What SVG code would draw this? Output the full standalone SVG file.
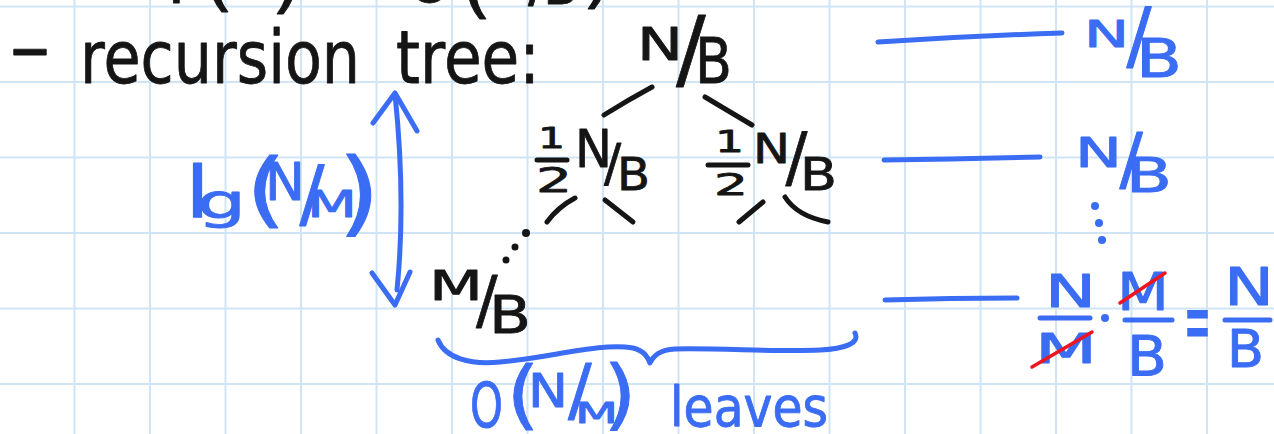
<svg xmlns="http://www.w3.org/2000/svg" width="1274" height="434" viewBox="0 0 1274 434">
<style>
.grid line{stroke:#cfe5f5;stroke-width:2}
.t{font-family:"DejaVu Sans","Liberation Sans",sans-serif;stroke-linejoin:round}
.k{fill:#151515;stroke:#151515;stroke-width:0.8}
.b{fill:#3a6cf4;stroke:#3a6cf4;stroke-width:0.9}
.kl{fill:none;stroke:#151515;stroke-width:5;stroke-linecap:round;stroke-linejoin:round}
.bl{fill:none;stroke:#3a6cf4;stroke-width:5;stroke-linecap:round;stroke-linejoin:round}
.rl{fill:none;stroke:#ec1520;stroke-width:3.5;stroke-linecap:round}
.kd{fill:#151515}
.bd{fill:#3a6cf4}
</style>
<rect width="1274" height="434" fill="#ffffff"/>
<g class="grid">
<line x1="74.5" y1="0" x2="74.5" y2="434"/><line x1="150" y1="0" x2="150" y2="434"/><line x1="225.5" y1="0" x2="225.5" y2="434"/><line x1="301" y1="0" x2="301" y2="434"/><line x1="376.5" y1="0" x2="376.5" y2="434"/><line x1="452" y1="0" x2="452" y2="434"/><line x1="527.5" y1="0" x2="527.5" y2="434"/><line x1="603" y1="0" x2="603" y2="434"/><line x1="678.5" y1="0" x2="678.5" y2="434"/><line x1="754" y1="0" x2="754" y2="434"/><line x1="829.5" y1="0" x2="829.5" y2="434"/><line x1="905" y1="0" x2="905" y2="434"/><line x1="980.5" y1="0" x2="980.5" y2="434"/><line x1="1056" y1="0" x2="1056" y2="434"/><line x1="1131.5" y1="0" x2="1131.5" y2="434"/><line x1="1207" y1="0" x2="1207" y2="434"/>
<line x1="0" y1="6.5" x2="1274" y2="6.5"/><line x1="0" y1="82" x2="1274" y2="82"/><line x1="0" y1="157.5" x2="1274" y2="157.5"/><line x1="0" y1="233" x2="1274" y2="233"/><line x1="0" y1="308.5" x2="1274" y2="308.5"/><line x1="0" y1="384" x2="1274" y2="384"/>
</g>

<g id="header">
<text class="t k" font-size="60"><tspan x="158" y="3">T</tspan><tspan x="204" y="4" textLength="30" lengthAdjust="spacingAndGlyphs">(</tspan><tspan x="228" y="-6">N</tspan><tspan x="271" y="6" textLength="30" lengthAdjust="spacingAndGlyphs">)</tspan> <tspan x="330" y="-8">=</tspan> <tspan x="407" y="2" textLength="45" lengthAdjust="spacingAndGlyphs">Θ</tspan><tspan x="462" y="11" textLength="30" lengthAdjust="spacingAndGlyphs">(</tspan><tspan x="490" y="-6">N</tspan><tspan x="528" y="0">/</tspan><tspan x="543" y="4" textLength="36" lengthAdjust="spacingAndGlyphs">B</tspan><tspan x="582" y="1" textLength="30" lengthAdjust="spacingAndGlyphs">)</tspan></text>
<text class="t k" font-size="73"><tspan x="8" y="72" textLength="44" lengthAdjust="spacingAndGlyphs">-</tspan> <tspan x="80" y="83" textLength="280" lengthAdjust="spacingAndGlyphs">recursion</tspan> <tspan x="396" y="83" textLength="144" lengthAdjust="spacingAndGlyphs">tree:</tspan></text>
</g>

<g id="node-root">
<text class="t k"><tspan x="637" y="60" font-size="45" textLength="46" lengthAdjust="spacingAndGlyphs">N</tspan><tspan x="676" y="79" font-size="88">/</tspan><tspan x="695" y="83" font-size="63" textLength="37" lengthAdjust="spacingAndGlyphs">B</tspan></text>
</g>

<g id="node-left-child">
<text class="t k"><tspan x="538" y="148" font-size="29" textLength="27" lengthAdjust="spacingAndGlyphs">1</tspan><tspan x="536" y="192" font-size="33" textLength="36" lengthAdjust="spacingAndGlyphs">2</tspan><tspan x="575" y="167" font-size="51" textLength="37" lengthAdjust="spacingAndGlyphs">N</tspan><tspan x="604" y="181" font-size="51">/</tspan><tspan x="617" y="190" font-size="44" textLength="33" lengthAdjust="spacingAndGlyphs">B</tspan></text>
<path class="kl" d="M537,160 L567,160"/>
</g>

<g id="node-right-child">
<text class="t k"><tspan x="715" y="152" font-size="30" textLength="29" lengthAdjust="spacingAndGlyphs">1</tspan><tspan x="714" y="195" font-size="30" textLength="34" lengthAdjust="spacingAndGlyphs">2</tspan><tspan x="753" y="163" font-size="41" textLength="37" lengthAdjust="spacingAndGlyphs">N</tspan><tspan x="785.5" y="180" font-size="65">/</tspan><tspan x="800" y="190" font-size="44" textLength="37" lengthAdjust="spacingAndGlyphs">B</tspan></text>
<path class="kl" d="M708,165 L748,165"/>
</g>

<g id="node-leaf">
<text class="t k"><tspan x="429" y="300" font-size="41" textLength="54" lengthAdjust="spacingAndGlyphs">M</tspan><tspan x="476" y="322" font-size="64">/</tspan><tspan x="489" y="333" font-size="52" textLength="42" lengthAdjust="spacingAndGlyphs">B</tspan></text>
</g>

<g id="connectors">
<path class="kl" d="M652,87 Q628,100 604,115"/>
<path class="kl" d="M705,97 L752,125"/>
<path class="kl" d="M575,198 Q558,207 547,222"/>
<path class="kl" d="M605,200 L633,222"/>
<path class="kl" d="M763,202 L739,222"/>
<path class="kl" d="M785,197 Q797,216 828,222"/>
<circle class="kd" cx="526" cy="233" r="4"/>
<circle class="kd" cx="515" cy="247" r="3.5"/>
<circle class="kd" cx="506" cy="260" r="3.5"/>
</g>

<g id="depth-arrow">
<path class="bl" d="M395,94 Q406,200 397,290"/>
<path class="bl" d="M373,123 L395,93 L417,131"/>
<path class="bl" d="M372,273 L395,305 L410,272"/>
<text class="t b"><tspan x="185" y="217" font-size="72" textLength="25" lengthAdjust="spacingAndGlyphs">l</tspan><tspan x="197" y="218" font-size="48" textLength="49" lengthAdjust="spacingAndGlyphs">g</tspan><tspan x="246" y="217" font-size="82" textLength="40" lengthAdjust="spacingAndGlyphs">(</tspan><tspan x="265" y="200" font-size="51" textLength="40" lengthAdjust="spacingAndGlyphs">N</tspan><tspan x="299.5" y="219" font-size="74">/</tspan><tspan x="307" y="217" font-size="37" textLength="50" lengthAdjust="spacingAndGlyphs">M</tspan><tspan x="338" y="225" font-size="92" textLength="42" lengthAdjust="spacingAndGlyphs">)</tspan></text>
</g>

<g id="leaves-brace">
<path class="bl" d="M438,340 C445,358 470,365 500,362 C550,358 600,342 633,348 C645,351 648,358 650,363 C654,355 660,350 675,349 C720,348 780,352 820,350 C845,349 860,343 855,333"/>
<text class="t b"><tspan x="470" y="427" font-size="63" textLength="33" lengthAdjust="spacingAndGlyphs">O</tspan><tspan x="506.5" y="420" font-size="75" textLength="33" lengthAdjust="spacingAndGlyphs">(</tspan><tspan x="528" y="407" font-size="47" textLength="40" lengthAdjust="spacingAndGlyphs">N</tspan><tspan x="568" y="414" font-size="70">/</tspan><tspan x="575" y="423" font-size="28" textLength="43" lengthAdjust="spacingAndGlyphs">M</tspan><tspan x="603.6" y="420" font-size="76" textLength="33" lengthAdjust="spacingAndGlyphs">)</tspan> <tspan x="670" y="426" font-size="55" textLength="158" lengthAdjust="spacingAndGlyphs">leaves</tspan></text>
</g>

<g id="level-1">
<path class="bl" d="M878,42 Q970,36 1062,33"/>
<text class="t b"><tspan x="1084" y="47" font-size="37" textLength="45" lengthAdjust="spacingAndGlyphs">N</tspan><tspan x="1126.5" y="61" font-size="74">/</tspan><tspan x="1136" y="77" font-size="54" textLength="46" lengthAdjust="spacingAndGlyphs">B</tspan></text>
</g>

<g id="level-2">
<path class="bl" d="M884,160 Q962,159 1040,157"/>
<text class="t b"><tspan x="1075" y="167" font-size="41" textLength="47" lengthAdjust="spacingAndGlyphs">N</tspan><tspan x="1119.5" y="183" font-size="69">/</tspan><tspan x="1126" y="192" font-size="48" textLength="46" lengthAdjust="spacingAndGlyphs">B</tspan></text>
<circle class="bd" cx="1095" cy="206" r="4"/>
<circle class="bd" cx="1099" cy="223" r="4"/>
<circle class="bd" cx="1102" cy="240" r="4"/>
</g>

<g id="level-leaves">
<path class="bl" d="M885,300 Q950,298 1017,298"/>
<text class="t b"><tspan x="1045" y="307" font-size="44" textLength="51" lengthAdjust="spacingAndGlyphs">N</tspan><tspan x="1035" y="363" font-size="41" textLength="62" lengthAdjust="spacingAndGlyphs">M</tspan><tspan x="1117" y="310" font-size="51" textLength="52" lengthAdjust="spacingAndGlyphs">M</tspan><tspan x="1127" y="375" font-size="55" textLength="40" lengthAdjust="spacingAndGlyphs">B</tspan><tspan x="1184" y="352" font-size="90" textLength="27" lengthAdjust="spacingAndGlyphs">=</tspan><tspan x="1224" y="305" font-size="52" textLength="50" lengthAdjust="spacingAndGlyphs">N</tspan><tspan x="1227" y="367" font-size="51" textLength="37" lengthAdjust="spacingAndGlyphs">B</tspan></text>
<path class="bl" d="M1040,318 L1090,318"/>
<path class="bl" d="M1125,320 L1172,320"/>
<path class="bl" d="M1225,320 L1270,320"/>
<circle class="bd" cx="1105" cy="318" r="4"/>
<path class="rl" d="M1032,367 L1092,332"/>
<path class="rl" d="M1120,303 L1165,273"/>
</g>
</svg>
